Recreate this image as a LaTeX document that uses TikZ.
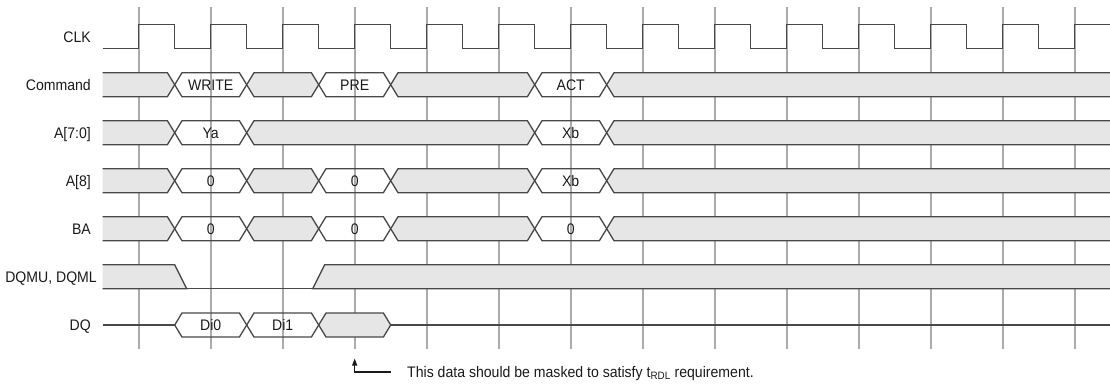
\documentclass[tikz,border=0pt]{standalone}
\usepackage{fontspec}
\setmainfont{Liberation Sans}[FakeStretch=0.92]
\usetikzlibrary{arrows.meta}
\definecolor{Wave}{HTML}{484848}
\definecolor{Grid}{HTML}{ABABAB}
\definecolor{Shade}{HTML}{E6E6E6}
\definecolor{Ink}{HTML}{1A1A1A}
\tikzset{
  wave/.style={draw=Wave, line width=1.3pt, line join=miter},
  shaded/.style={wave, fill=Shade},
  gridline/.style={draw=Grid, line width=1.6pt},
  val/.style={text=Ink, font=\fontsize{15.3}{18}\selectfont, inner sep=0pt,
    text height=11pt, text depth=0pt},
  sig/.style={val, anchor=east},
}
\newcommand{\busseg}[4]{% row, from, to, style
  \draw[#4] (#2,#1) -- ({#2+7.3},{#1-12}) -- ({#3-7.3},{#1-12}) -- (#3,#1)
    -- ({#3-7.3},{#1+12}) -- ({#2+7.3},{#1+12}) -- cycle;
}
\newcommand{\busval}[5]{% row, from, to, name, text
  \busseg{#1}{#2}{#3}{wave}
  \node[val] (#4) at ({(#2+#3)/2},#1) {#5};
}
\newcommand{\busopen}[2]{% shaded from the left end
  \draw[shaded] (102.7,{#1-12}) -- ({#2-7.3},{#1-12}) -- (#2,#1)
    -- ({#2-7.3},{#1+12}) -- (102.7,{#1+12});
}
\newcommand{\busrest}[2]{% shaded up to the right edge
  \draw[shaded] (1110,{#1-12}) -- ({#2+7.3},{#1-12}) -- (#2,#1)
    -- ({#2+7.3},{#1+12}) -- (1110,{#1+12});
}

\begin{document}
\begin{tikzpicture}[x=1pt,y=-1pt]
  \useasboundingbox (0,0) rectangle (1110,384);
  % clock grid
  \foreach \k in {0,...,13}
    \draw[gridline] ({138.7+72*\k},6.7) -- ({138.7+72*\k},349.3);
  % signal names
  \node[sig] (clk) at (91,36.7) {CLK};
  \node[sig] (cmd) at (91,84.7) {Command};
  \node[sig] (addr) at (91,132.7) {A[7:0]};
  \node[sig] (a8) at (91,180.7) {A[8]};
  \node[sig] (ba) at (91,228.7) {BA};
  \node[sig] (dqm) at (97,276.7) {DQMU, DQML};
  \node[sig] (dq) at (91,325) {DQ};
  % CLK
  \draw[wave] (102.7,48.7) -- (138.7,48.7)
    \foreach \k in {0,...,12} { -- ++(0,-24) -- ++(36,0) -- ++(0,24) -- ++(36,0) }
    -- ++(0,-24) -- (1110,24.7);
  % Command
  \busopen{84.7}{174.7}
  \busval{84.7}{174.7}{246.7}{write}{WRITE}
  \busseg{84.7}{246.7}{318.7}{shaded}
  \busval{84.7}{318.7}{390.7}{pre}{PRE}
  \busseg{84.7}{390.7}{534.7}{shaded}
  \busval{84.7}{534.7}{606.7}{act}{ACT}
  \busrest{84.7}{606.7}
  % A[7:0]
  \busopen{132.7}{174.7}
  \busval{132.7}{174.7}{246.7}{ya}{Ya}
  \busseg{132.7}{246.7}{534.7}{shaded}
  \busval{132.7}{534.7}{606.7}{xb}{Xb}
  \busrest{132.7}{606.7}
  % A[8]
  \busopen{180.7}{174.7}
  \busval{180.7}{174.7}{246.7}{a8-wr}{0}
  \busseg{180.7}{246.7}{318.7}{shaded}
  \busval{180.7}{318.7}{390.7}{a8-pre}{0}
  \busseg{180.7}{390.7}{534.7}{shaded}
  \busval{180.7}{534.7}{606.7}{a8-act}{Xb}
  \busrest{180.7}{606.7}
  % BA
  \busopen{228.7}{174.7}
  \busval{228.7}{174.7}{246.7}{ba-wr}{0}
  \busseg{228.7}{246.7}{318.7}{shaded}
  \busval{228.7}{318.7}{390.7}{ba-pre}{0}
  \busseg{228.7}{390.7}{534.7}{shaded}
  \busval{228.7}{534.7}{606.7}{ba-act}{0}
  \busrest{228.7}{606.7}
  % DQMU, DQML
  \draw[shaded] (102.7,264.7) -- (174.7,264.7) -- (186.7,288.7) -- (102.7,288.7);
  \draw[shaded] (1110,288.7) -- (312.7,288.7) -- (324.7,264.7) -- (1110,264.7);
  \draw[wave] (102.7,288.7) -- (1110,288.7);
  % DQ
  \draw[wave] (102.7,325) -- (174.7,325);
  \busval{325}{174.7}{246.7}{di0}{Di0}
  \busval{325}{246.7}{318.7}{di1}{Di1}
  \busseg{325}{318.7}{390.7}{shaded}
  \draw[wave] (390.7,325) -- (1110,325);
  % masked data note
  \node[val, anchor=west] (note) at (407,372)
    {This data should be masked to satisfy t\textsubscript{RDL} requirement.};
  \coordinate (masktip) at (354.7,358.5);
  \draw[Ink, line width=1.1pt, -{Triangle[length=7pt,width=5pt]}]
    ([xshift=-16.3pt]note.west) -| (masktip);
\end{tikzpicture}
\end{document}
